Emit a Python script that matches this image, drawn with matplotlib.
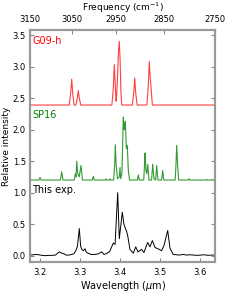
import matplotlib
matplotlib.use("Agg")
import matplotlib.pyplot as plt

# ---- data ----
# G09-h computed spectrum (offset baseline 2.39)
g09_wl = [3.15, 3.2727, 3.2762, 3.2787, 3.2812, 3.2847, 3.2892, 3.2927, 3.2952, 3.2977, 3.3012,
          3.3790, 3.3825, 3.3850, 3.3875, 3.3895, 3.3910, 3.3935, 3.3955, 3.3975, 3.3995, 3.4015, 3.4035,
          3.4300, 3.4335, 3.4360, 3.4385, 3.4420,
          3.4664, 3.4699, 3.4724, 3.4744, 3.4764, 3.4800, 3.65]
g09_int = [2.39, 2.39, 2.58, 2.80, 2.58, 2.39, 2.39, 2.50, 2.62, 2.50, 2.39,
           2.39, 2.65, 3.03, 2.70, 2.45, 2.55, 2.91, 3.25, 3.40, 3.10, 2.60, 2.39,
           2.39, 2.58, 2.82, 2.58, 2.39,
           2.39, 2.70, 3.08, 2.85, 2.70, 2.39, 2.39]

# SP16 computed spectrum (offset baseline 1.20)
sp16_wl = [3.15, 3.1970, 3.1996, 3.2022, 3.2505, 3.2537, 3.2569,
           3.2850, 3.2880, 3.2895, 3.2912, 3.2940, 3.2975, 3.3019, 3.3055,
           3.3300, 3.3326, 3.3352, 3.3625, 3.3643, 3.3660, 3.3725, 3.3743, 3.3760,
           3.3835, 3.3860, 3.3875, 3.3895, 3.3930, 3.3975, 3.3993, 3.4010,
           3.4040, 3.4060, 3.4075, 3.4095, 3.4110, 3.4125, 3.4150, 3.4175, 3.4200, 3.4230,
           3.4425, 3.4449, 3.4475, 3.4585, 3.4605, 3.4617, 3.4640, 3.4660, 3.4685, 3.4715,
           3.4780, 3.4809, 3.4840, 3.4880, 3.4909, 3.4940, 3.5030, 3.5058, 3.5085,
           3.5370, 3.5390, 3.5408, 3.5430, 3.5455,
           3.5695, 3.5715, 3.5735, 3.6140, 3.6157, 3.6175, 3.6265, 3.6282, 3.6300, 3.65]
sp16_int = [1.20, 1.20, 1.24, 1.20, 1.20, 1.33, 1.20,
            1.20, 1.30, 1.25, 1.50, 1.30, 1.25, 1.43, 1.20,
            1.20, 1.26, 1.20, 1.20, 1.22, 1.20, 1.20, 1.22, 1.20,
            1.20, 1.45, 1.76, 1.45, 1.22, 1.25, 1.40, 1.22,
            1.30, 1.80, 2.20, 2.00, 2.05, 2.13, 1.70, 1.75, 1.35, 1.20,
            1.20, 1.28, 1.20, 1.20, 1.45, 1.63, 1.35, 1.30, 1.45, 1.20,
            1.20, 1.45, 1.22, 1.20, 1.43, 1.20, 1.20, 1.35, 1.20,
            1.20, 1.45, 1.75, 1.45, 1.20,
            1.20, 1.22, 1.20, 1.20, 1.21, 1.20, 1.20, 1.21, 1.20, 1.20]

# This experiment (baseline 0)
exp_wl = [3.175, 3.183, 3.191, 3.200, 3.212, 3.220, 3.229, 3.238, 3.2477, 3.254, 3.260, 3.264,
          3.272, 3.279, 3.284, 3.289, 3.293, 3.2977, 3.301, 3.304, 3.308, 3.312, 3.315, 3.319,
          3.327, 3.337, 3.345, 3.3536, 3.359, 3.364, 3.369, 3.373, 3.377, 3.3825, 3.387,
          3.3935, 3.3975, 3.405, 3.409, 3.413, 3.416, 3.419, 3.424, 3.4325, 3.4385, 3.444,
          3.453, 3.459, 3.4684, 3.474, 3.480, 3.4866, 3.494, 3.503, 3.509, 3.5183, 3.524,
          3.532, 3.540, 3.548, 3.556, 3.565, 3.574, 3.583, 3.592, 3.601, 3.610, 3.619, 3.628, 3.636]
exp_int = [0.01, 0.015, 0.02, 0.01, 0.00, 0.005, 0.005, 0.01, 0.06, 0.04, 0.03, 0.01,
           0.01, 0.02, 0.03, 0.08, 0.15, 0.43, 0.15, 0.10, 0.08, 0.11, 0.06, 0.04,
           0.02, 0.02, 0.03, 0.06, 0.02, 0.03, 0.05, 0.06, 0.12, 0.20, 0.18,
           1.00, 0.27, 0.69, 0.50, 0.43, 0.38, 0.30, 0.10, 0.04, 0.14, 0.06,
           0.10, 0.05, 0.21, 0.14, 0.24, 0.13, 0.11, 0.08, 0.16, 0.40, 0.12,
           0.02, 0.015, 0.01, 0.02, 0.01, 0.015, 0.01, 0.005, 0.01, 0.015, 0.005, 0.01, 0.01]

freq_ticks = [3150, 3050, 2950, 2850, 2750]
wl_ticks = [3.2, 3.3, 3.4, 3.5, 3.6]
y_ticks = [0.0, 0.5, 1.0, 1.5, 2.0, 2.5, 3.0, 3.5]

# ---- figure ----
fig = plt.figure(figsize=(2.4, 3.0), dpi=100)
ax = fig.add_axes([30/240, 38/300, 185/240, 232/300])

ax.plot(g09_wl, g09_int, color='red', lw=0.8, alpha=0.75)
ax.plot(sp16_wl, sp16_int, color='green', lw=0.8, alpha=0.8)
ax.plot(exp_wl, exp_int, color='black', lw=0.7)

xmin, xmax = 1e4/3150, 1e4/2750
ax.set_xlim(xmin, xmax)
ax.set_ylim(-0.1, 3.58)
ax.set_xticks(wl_ticks)
ax.set_yticks(y_ticks)
ax.set_xticklabels([f"{v:.1f}" for v in wl_ticks])
ax.set_yticklabels([f"{v:.1f}" for v in y_ticks])
ax.tick_params(direction='in', labelsize=6, length=3, color='#888888', right=True, pad=4)
ax.tick_params(axis='y', pad=3)
for s in ax.spines.values():
    s.set_color('#999999')
    s.set_linewidth(1.5)

ax.set_xlabel('Wavelength ($\\mu$m)', fontsize=7, labelpad=2)
ax.set_ylabel('Relative intensity', fontsize=6.5, labelpad=1)

ax2 = ax.twiny()
ax2.set_xlim(xmin, xmax)
ax2.set_xticks([1e4/f for f in freq_ticks])
ax2.set_xticklabels([str(f) for f in freq_ticks])
ax2.tick_params(direction='in', labelsize=6, length=3, color='#888888', pad=4)
for s in ax2.spines.values():
    s.set_color('#999999')
    s.set_linewidth(1.5)
ax2.set_xlabel('Frequency (cm$^{-1}$)', fontsize=6.5, labelpad=3)

ax.text(0.012, 0.975, 'G09-h', color='red', fontsize=7, transform=ax.transAxes, va='top', ha='left')
ax.text(0.012, 0.655, 'SP16', color='green', fontsize=7, transform=ax.transAxes, va='top', ha='left')
ax.text(0.012, 0.33, 'This exp.', color='black', fontsize=7, transform=ax.transAxes, va='top', ha='left')

fig.savefig('out.png', dpi=100)
